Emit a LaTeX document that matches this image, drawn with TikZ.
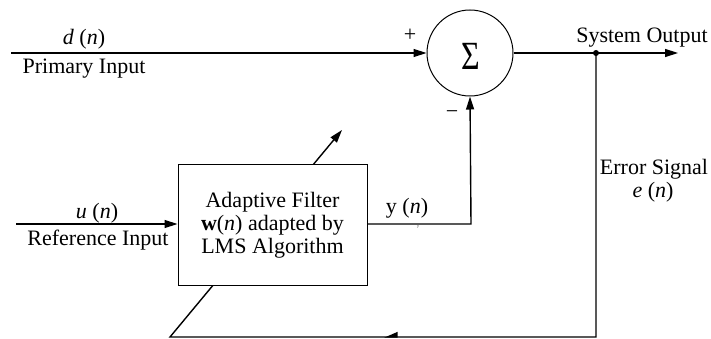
\documentclass[tikz,border=0pt]{standalone}
\usepackage{fontspec}
\setmainfont{Liberation Serif}
\usetikzlibrary{arrows.meta,decorations.markings,backgrounds}
\begin{document}
\begin{tikzpicture}[x=1pt,y=-1pt,
  lbl/.style={font=\fontsize{22}{23}\selectfont,inner sep=0pt,anchor=base},
  sign/.style={font=\fontsize{22}{23}\selectfont,inner sep=0pt},
  sigline/.style={line width=1.4pt,-{Triangle[length=13pt,width=8pt]}},
  block/.style={draw,fill=white,line width=1pt,inner sep=0pt},
]
\useasboundingbox (0,0) rectangle (711,339);

% summing junction and adaptive filter
\node[block,circle,minimum size=86pt] (sum) at (470,53) {};
\node[font=\fontsize{40}{40}\selectfont,inner sep=0pt,xscale=0.8] (sigma) at (471,56) {Σ};
\node[block,minimum width=189pt,minimum height=120pt,align=center,
      font=\fontsize{22}{23}\selectfont] (filt) at (272.5,225)
      {Adaptive Filter\\\textbf{w}(\textit{n}) adapted by\\LMS Algorithm};

% signal points
\coordinate (din) at (11,53);
\coordinate (uin) at (16,224);
\coordinate (ycorner) at (471,224);
\coordinate (tap) at (596,53);
\coordinate (out) at (678,53);
\coordinate (br) at (596,337);
\coordinate (bl) at (170,337);
\coordinate (adapt) at (342,130);

% connectors
\draw[sigline] (din) -- (sum.west);
\draw[sigline] (uin) -- (filt.west |- uin);
\draw[sigline] (filt.east |- ycorner) -- (ycorner) -- (sum.south);
\draw[sigline] (sum.east) -- (out);
\fill (tap) circle (3pt);
% error feedback, passing behind the filter block
\begin{pgfonlayer}{background}
\draw[sigline,postaction={decorate},
      decoration={markings,mark=at position 496pt with {\arrow{Triangle[harpoon,swap,length=12pt,width=10pt]}}}]
  (tap) -- (br) -- (bl) -- (adapt);
\end{pgfonlayer}

% labels
\node[lbl] (dlab) at (84,45) {\textit{d} (\textit{n})};
\node[lbl] (plab) at (84,74) {Primary Input};
\node[lbl] (ulab) at (97,218) {\textit{u} (\textit{n})};
\node[lbl] (rlab) at (98,245) {Reference Input};
\node[lbl] (ylab) at (407,213) {y (\textit{n})};
\node[lbl] (olab) at (642,43) {System Output};
\node[lbl] (elab) at (654,175) {Error Signal};
\node[lbl] (enlab) at (653,197) {\textit{e} (\textit{n})};
\node[sign] (plus) at (410,35) {+};
\node[sign] (minus) at (452,115) {−};
\node[font=\fontsize{5}{5}\selectfont\sffamily,text=black!60,inner sep=0pt] (ytick) at (418,227) {y};
\end{tikzpicture}
\end{document}
